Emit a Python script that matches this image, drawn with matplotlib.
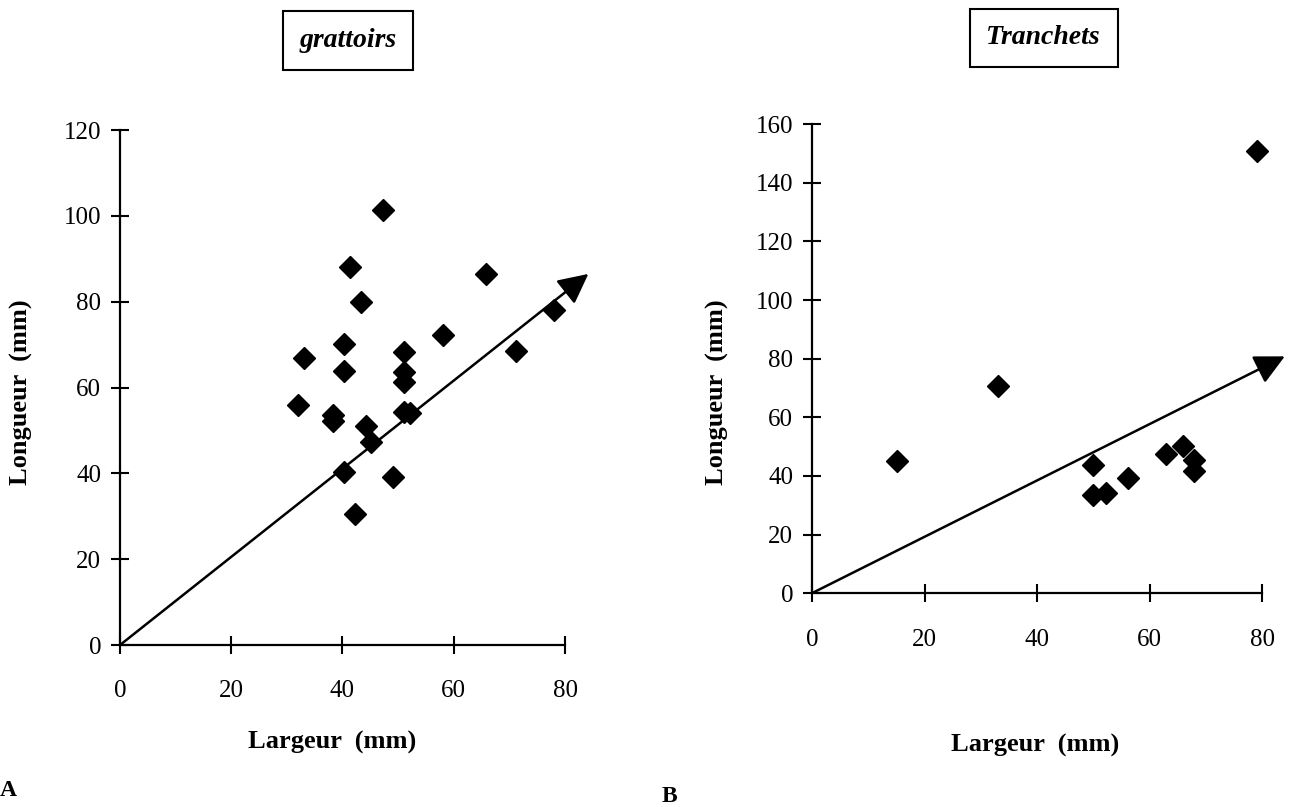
import matplotlib.pyplot as plt

plt.rcParams['font.family'] = ['Liberation Serif', 'DejaVu Serif']

# grattoirs (largeur, longueur)
grat_x = [47.2, 41.3, 65.8, 43.3, 78.0, 58.0, 40.3, 51.1, 71.1, 33.0, 40.3, 51.1,
          51.0, 32.0, 38.3, 38.3, 51.0, 52.1, 44.3, 45.2, 40.3, 49.1, 42.3]
grat_y = [101.3, 88.1, 86.5, 79.9, 78.2, 72.3, 70.1, 68.4, 68.5, 66.9, 63.9, 63.7,
          61.2, 55.9, 53.7, 52.1, 54.3, 54.1, 51.0, 47.3, 40.4, 39.2, 30.6]
grat_arrow = (84.2, 86.5)

# tranchets (largeur, longueur)
tran_x = [79.1, 33.1, 15.1, 49.9, 49.9, 52.3, 56.2, 62.9, 65.9, 67.9, 67.9]
tran_y = [150.9, 70.7, 45.1, 43.6, 33.4, 34.3, 39.3, 47.6, 50.2, 45.3, 41.6]
tran_arrow = (84.0, 80.8)

x_ticks = [0, 20, 40, 60, 80]
grat_yticks = [0, 20, 40, 60, 80, 100, 120]
tran_yticks = [0, 20, 40, 60, 80, 100, 120, 140, 160]


def style_axes(ax, yticks, xlab_pos, ylab_pos):
    for side in ['top', 'right']:
        ax.spines[side].set_visible(False)
    for side in ['left', 'bottom']:
        ax.spines[side].set_linewidth(1.6)
    ax.set_xlim(0, 80)
    ax.set_ylim(0, yticks[-1])
    ax.set_xticks(x_ticks)
    ax.set_yticks(yticks)
    ax.tick_params(direction='inout', length=13, width=1.5, labelsize=18)
    ax.tick_params(axis='x', pad=19)
    ax.tick_params(axis='y', pad=7)
    ax.set_xlabel('Largeur  (mm)', fontsize=19, fontweight='bold')
    ax.set_ylabel('Longueur  (mm)', fontsize=19, fontweight='bold')
    ax.xaxis.set_label_coords(*xlab_pos)
    ax.yaxis.set_label_coords(*ylab_pos)
    ax.xaxis.label.set_va('center')
    ax.yaxis.label.set_va('center')


def draw_panel(ax, xs, ys, tip):
    ax.annotate('', xy=tip, xytext=(0, 0),
                arrowprops=dict(arrowstyle='-|>,head_length=0.4,head_width=0.2',
                                lw=1.8, color='black', mutation_scale=46,
                                shrinkA=0, shrinkB=0),
                annotation_clip=False)
    ax.plot(xs, ys, 'D', color='black', markersize=11, clip_on=False, zorder=3)


fig = plt.figure(figsize=(12.9, 8.07), dpi=100)
ax1 = fig.add_axes([0.093, 0.2007, 0.345, 0.638])
ax2 = fig.add_axes([0.6295, 0.265, 0.349, 0.581])

draw_panel(ax1, grat_x, grat_y, grat_arrow)
style_axes(ax1, grat_yticks, (0.477, -0.19), (-0.222, 0.491))
draw_panel(ax2, tran_x, tran_y, tran_arrow)
style_axes(ax2, tran_yticks, (0.496, -0.324), (-0.21, 0.429))

box = dict(boxstyle='square,pad=0.6', facecolor='white', edgecolor='black', lw=1.5)
fig.text(0.2698, 0.950, 'grattoirs', fontsize=20, fontweight='bold', style='italic',
         ha='center', va='center', bbox=box)
fig.text(0.809, 0.953, 'Tranchets', fontsize=20, fontweight='bold', style='italic',
         ha='center', va='center', bbox=box)

fig.text(0.0, 0.0136, 'A', fontsize=17, fontweight='bold', va='baseline')
fig.text(0.513, 0.006, 'B', fontsize=17, fontweight='bold', va='baseline')

fig.savefig('out.png', dpi=100)
